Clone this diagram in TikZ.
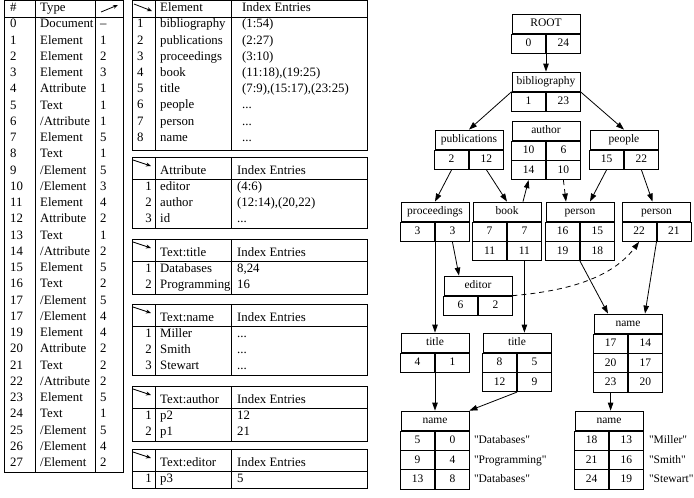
\documentclass[tikz,border=0pt]{standalone}
\usepackage{fontspec}
\setmainfont{Liberation Serif}
\usepackage{tikz}
\usetikzlibrary{arrows.meta, positioning}
\newcommand{\tabfont}{\fontsize{12.8}{15}\selectfont}
\newcommand{\treefont}{\fontsize{11.5}{13}\selectfont}
\newcommand{\qstr}[1]{\textquotedbl#1\textquotedbl}
% one index table of the middle column: name, top, rows, header, entries
\newcommand{\idxtable}[5]{%
  \draw[tbl] (132,#2) rectangle (367,#2+23+16*#3);
  \draw[tbl] (132,#2+22) -- (367,#2+22) (155,#2) -- (155,#2+23+16*#3) (231,#2) -- (231,#2+23+16*#3);
  \draw[icon] (133,#2+3) -- (151,#2+9);
  \node[txt] (#1-head) at (160,#2+14) {#4};
  \node[txt] (#1-idx) at (237,#2+14) {Index Entries};
  \foreach \e/\ent [count=\i] in {#5} {
    \node[num] (#1-\i) at (152,#2+14+16*\i) {\i};
    \node[txt] (#1-\i-name) at (160,#2+14+16*\i) {\e};
    \node[txt] (#1-\i-idx) at (237,#2+14+16*\i) {\ent};
  }
}
% one record of the tree: name, x, top, title, cells
\newcommand{\record}[5]{%
  \node[rtitle] (#1) at (#2,#3+9.65) {#4};
  \foreach \lv/\rv [count=\rr] in {#5} {
    \node[rcell, anchor=north east] (#1-\rr-l) at ([yshift={-19.3*(\rr-1)}]#1.south) {\lv};
    \node[rcell, anchor=north west] (#1-\rr-r) at ([yshift={-19.3*(\rr-1)}]#1.south) {\rv};
  }
}

\begin{document}
\begin{tikzpicture}[x=1pt, y=-1pt,
    tbl/.style={line width=0.9pt},
    txt/.style={anchor=west, inner sep=0pt, font=\tabfont, text height=9pt, text depth=2.5pt},
    num/.style={txt, anchor=east},
    icon/.style={line width=0.8pt, -{Stealth[length=5pt,width=4pt]}},
    rtitle/.style={draw, line width=0.8pt, minimum width=68pt, minimum height=19.3pt,
                   inner sep=0pt, font=\treefont, text height=8.5pt, text depth=2.5pt},
    rcell/.style={rtitle, minimum width=34pt},
    strtxt/.style={inner sep=0pt, font=\treefont, text height=8.5pt, text depth=2.5pt},
    link/.style={line width=0.8pt, -{Triangle[length=8pt,width=5.5pt]}}]
  \path[fill=white] (0,0) rectangle (694,498);
  \useasboundingbox (0,0) rectangle (694,498);

  % token table
  \draw[tbl] (4,0.5) rectangle (123,472);
  \draw[tbl] (4,17.5) -- (123,17.5) (35,0.5) -- (35,472) (95,0.5) -- (95,472);
  \node[txt] (h-num) at (10,8) {\#};
  \node[txt] (h-type) at (40,8) {Type};
  \draw[icon] (101,12) -- (118,5);
  \foreach \n/\ty/\pa [count=\i from 0] in {0/Document/--, 1/Element/1, 2/Element/2,
      3/Element/3, 4/Attribute/1, 5/Text/1, 6/{/Attribute}/1, 7/Element/5, 8/Text/1,
      9/{/Element}/5, 10/{/Element}/3, 11/Element/4, 12/Attribute/2, 13/Text/1,
      14/{/Attribute}/2, 15/Element/5, 16/Text/2, 17/{/Element}/5, 17/{/Element}/4,
      19/Element/4, 20/Attribute/2, 21/Text/2, 22/{/Attribute}/2, 23/Element/5,
      24/Text/1, 25/{/Element}/5, 26/{/Element}/4, 27/{/Element}/2} {
    \node[txt] (num-\i) at (10,24.5+16.26*\i) {\n};
    \node[txt] (type-\i) at (40,24.5+16.26*\i) {\ty};
    \node[txt] (par-\i) at (100,24.5+16.26*\i) {\pa};
  }

  % element table
  \draw[tbl] (132,0.5) rectangle (367,150);
  \draw[tbl] (132,17) -- (367,17) (155,0.5) -- (155,150) (231,0.5) -- (231,150);
  \draw[icon] (134,4) -- (152,11);
  \node[txt] (el-head) at (160,8) {Element};
  \node[txt] (el-idx) at (242,8) {Index Entries};
  \foreach \e/\ent [count=\i] in {bibliography/{(1:54)}, publications/{(2:27)},
      proceedings/{(3:10)}, book/{(11:18),(19:25)}, title/{(7:9),(15:17),(23:25)},
      people/{...}, person/{...}, name/{...}} {
    \node[txt] (el-\i) at (137,8.5+16.2*\i) {\i};
    \node[txt] (el-\i-name) at (160,8.5+16.2*\i) {\e};
    \node[txt] (el-\i-idx) at (242,8.5+16.2*\i) {\ent};
  }

  % attribute and text tables
  \idxtable{attr}{157}{3}{Attribute}{editor/{(4:6)}, author/{(12:14),(20,22)}, id/{...}}
  \idxtable{ttitle}{239}{2}{Text:title}{Databases/{8,24}, Programming/16}
  \idxtable{tname}{304}{3}{Text:name}{Miller/{...}, Smith/{...}, Stewart/{...}}
  \idxtable{tauthor}{386}{2}{Text:author}{p2/12, p1/21}
  \idxtable{teditor}{449}{1}{Text:editor}{p3/5}

  % tree of records
  \record{root}{546}{14}{ROOT}{0/24}
  \record{biblio}{546}{72}{bibliography}{1/23}
  \record{pub}{469}{130}{publications}{2/12}
  \record{author}{546}{121}{author}{10/6, 14/10}
  \record{people}{624}{130}{people}{15/22}
  \record{proc}{435}{202}{proceedings}{3/3}
  \record{book}{507}{202}{book}{7/7, 11/11}
  \record{personA}{580}{202}{person}{16/15, 19/18}
  \record{personB}{656.5}{202}{person}{22/21}
  \record{editor}{478}{276}{editor}{6/2}
  \record{nameA}{628}{314}{name}{17/14, 20/17, 23/20}
  \record{titleA}{435}{333}{title}{4/1}
  \record{titleB}{517}{333}{title}{8/5, 12/9}
  \record{nameB}{435}{411}{name}{5/0, 9/4, 13/8}
  \record{nameC}{609}{411}{name}{18/13, 21/16, 24/19}

  \node[strtxt, right=4pt of nameB-1-r] (strB1) {\qstr{Databases}};
  \node[strtxt, right=4pt of nameB-2-r] (strB2) {\qstr{Programming}};
  \node[strtxt, right=4pt of nameB-3-r] (strB3) {\qstr{Databases}};
  \node[strtxt, right=5pt of nameC-1-r] (strC1) {\qstr{Miller}};
  \node[strtxt, right=5pt of nameC-2-r] (strC2) {\qstr{Smith}};
  \node[strtxt, right=5pt of nameC-3-r] (strC3) {\qstr{Stewart}};

  \draw[link] (root-1-l.south east) -- (biblio.north);
  \draw[link] (biblio.south west) -- (pub.north);
  \draw[link] (biblio.south east) -- (people.north);
  \draw[link] (pub-1-l.south) -- (proc.north);
  \draw[link] (pub-1-r.south) -- (book.north);
  \draw[link] (people-1-l.south) -- ([xshift=10pt]personA.north);
  \draw[link] (people-1-r.south) -- ([xshift=-4pt]personB.north);
  \draw[link] ([xshift=16pt]book.north) -- (author-2-l.south);
  \draw[link, dash pattern=on 5pt off 4pt] (author-2-r.south) -- ([xshift=-14pt]personA.north);
  \draw[link] (proc-1-r.south) -- ([xshift=-19pt]editor.north);
  \draw[link] (proc-1-l.south east) -- (titleA.north);
  \draw[link] (book-2-r.south) -- (book-2-r.south |- titleB.north);
  \draw[link, dash pattern=on 5pt off 4pt] (editor.south east)
    .. controls +(45,-4) and +(-30,40) .. (personB-1-l.south);
  \draw[link] (personA-2-l.south east) -- ([xshift=-20pt]nameA.north);
  \draw[link] (personB-1-l.south east) -- ([xshift=17pt]nameA.north);
  \draw[link] (titleA-1-l.south east) -- (nameB.north);
  \draw[link] (titleB-2-l.south east) -- (nameB.north east);
  \draw[link] (nameA-3-l.south) -- (nameA-3-l.south |- nameC.north);
\end{tikzpicture}
\end{document}
